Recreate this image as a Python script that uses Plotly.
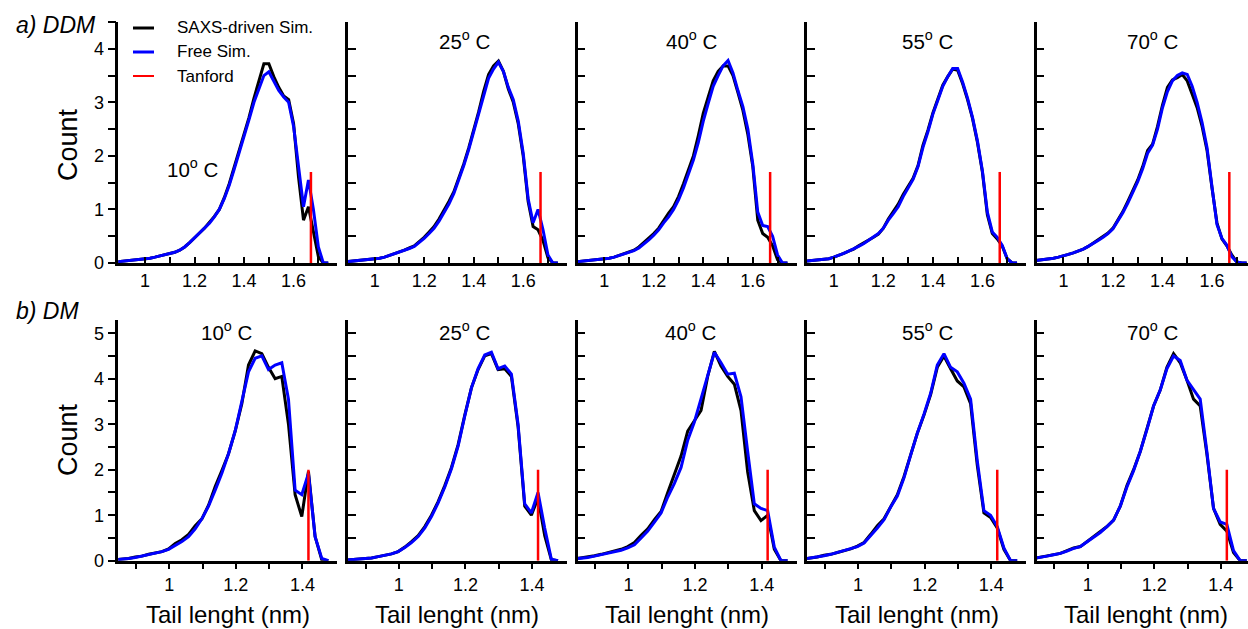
import plotly.graph_objects as go

W, H = 1248, 629
FONT = "Liberation Sans, Arial, Helvetica, sans-serif"

# ---------------- data ----------------
temps = ["10", "25", "40", "55", "70"]
ddm_tanford = 1.67   # nm, Tanford length for DDM tail
dm_tanford = 1.418   # nm, Tanford length for DM tail
ddm_tanford_h = 1.7
dm_tanford_h = 2.0

x_ddm = [0.88, 0.90, 0.92, 0.94, 0.96, 0.98, 1.00, 1.02, 1.04, 1.06, 1.08,
         1.10, 1.12, 1.14, 1.16, 1.18, 1.20, 1.22, 1.24, 1.26, 1.28, 1.30,
         1.32, 1.34, 1.36, 1.38, 1.40, 1.42, 1.44, 1.46, 1.48, 1.50, 1.52,
         1.54, 1.56, 1.58, 1.60, 1.62, 1.64, 1.66, 1.68, 1.70, 1.72, 1.74]

ddm_saxs_10 = [.02, .03, .03, .04, .05, .06, .07, .09, .11, .13, .15, .17, .20, .24, .30, .38, .48, .56, .65, .75, .87, 1.0,
               1.22, 1.48, 1.78, 2.10, 2.40, 2.72, 3.08, 3.38, 3.72, 3.72, 3.48, 3.28, 3.12, 3.05, 2.60, 1.60, 0.80, 1.05, 0.55, 0.12, 0, 0]
ddm_free_10 = [.02, .03, .03, .04, .05, .06, .07, .09, .11, .13, .15, .17, .20, .24, .30, .38, .47, .55, .64, .74, .86, 1.0,
               1.20, 1.45, 1.75, 2.05, 2.35, 2.68, 3.0, 3.25, 3.50, 3.57, 3.40, 3.22, 3.10, 3.0, 2.55, 1.80, 1.05, 1.55, 1.0, 0.30, 0, 0]
ddm_saxs_25 = [.02, .03, .03, .04, .05, .06, .07, .09, .11, .14, .17, .21, .24, .28, .32, .40, .48, .58, .68, .82, .98, 1.15,
               1.33, 1.58, 1.85, 2.15, 2.48, 2.82, 3.20, 3.52, 3.68, 3.77, 3.58, 3.25, 3.00, 2.60, 2.00, 1.15, 0.68, 0.62, 0.42, 0.10, 0, 0]
ddm_free_25 = [.02, .03, .03, .04, .05, .06, .07, .09, .11, .14, .17, .20, .23, .27, .31, .38, .46, .55, .65, .78, .94, 1.10,
               1.30, 1.55, 1.82, 2.12, 2.45, 2.78, 3.15, 3.45, 3.62, 3.75, 3.58, 3.28, 3.05, 2.65, 2.05, 1.20, 0.75, 1.0, 0.62, 0.15, 0, 0]
ddm_saxs_40 = [.02, .03, .04, .04, .05, .06, .07, .09, .11, .14, .18, .21, .24, .30, .38, .46, .55, .65, .80, .93, 1.05, 1.24,
               1.48, 1.74, 2.0, 2.38, 2.80, 3.10, 3.40, 3.58, 3.68, 3.68, 3.50, 3.18, 2.85, 2.40, 1.80, 0.80, 0.55, 0.48, 0.32, 0.06, 0, 0]
ddm_free_40 = [.02, .03, .04, .04, .05, .06, .07, .09, .11, .14, .17, .20, .23, .28, .35, .43, .52, .62, .75, .86, 1.0, 1.18,
               1.40, 1.65, 1.92, 2.25, 2.65, 2.98, 3.30, 3.50, 3.68, 3.78, 3.55, 3.22, 2.92, 2.50, 1.85, 0.95, 0.70, 0.68, 0.50, 0.15, 0, 0]
ddm_saxs_55 = [.03, .04, .04, .05, .06, .08, .11, .14, .18, .22, .26, .32, .37, .42, .48, .54, .65, .82, .95, 1.10, 1.28, 1.42,
               1.58, 1.82, 2.20, 2.48, 2.80, 3.06, 3.32, 3.48, 3.62, 3.60, 3.35, 3.05, 2.70, 2.25, 1.70, 0.90, 0.55, 0.45, 0.32, 0.08, 0, 0]
ddm_free_55 = [.03, .04, .04, .05, .06, .08, .11, .14, .18, .22, .26, .31, .36, .42, .48, .55, .65, .80, .92, 1.05, 1.24, 1.40,
               1.56, 1.80, 2.16, 2.45, 2.78, 3.04, 3.30, 3.48, 3.63, 3.63, 3.38, 3.08, 2.72, 2.28, 1.72, 0.95, 0.58, 0.48, 0.33, 0.08, 0, 0]
ddm_saxs_70 = [.04, .05, .06, .07, .09, .11, .13, .16, .19, .22, .26, .31, .37, .43, .49, .56, .65, .80, .96, 1.15, 1.35, 1.55,
               1.80, 2.10, 2.22, 2.55, 2.95, 3.28, 3.42, 3.46, 3.52, 3.40, 3.15, 2.90, 2.55, 2.10, 1.40, 0.75, 0.45, 0.32, 0.15, 0.02, 0, 0]
ddm_free_70 = [.04, .05, .06, .07, .09, .11, .13, .16, .19, .22, .26, .31, .36, .42, .48, .55, .64, .78, .94, 1.12, 1.32, 1.52,
               1.76, 2.05, 2.20, 2.50, 2.90, 3.20, 3.40, 3.50, 3.55, 3.52, 3.30, 3.00, 2.62, 2.15, 1.42, 0.72, 0.46, 0.33, 0.12, 0.02, 0, 0]

x_dm = [0.838, 0.858, 0.878, 0.898, 0.918, 0.938, 0.958, 0.978, 0.998, 1.018, 1.038,
        1.058, 1.078, 1.098, 1.118, 1.138, 1.158, 1.178, 1.198, 1.218, 1.238, 1.258,
        1.278, 1.298, 1.318, 1.338, 1.358, 1.378, 1.398, 1.418, 1.438, 1.458, 1.478]

dm_saxs_10 = [.02, .03, .05, .08, .10, .14, .17, .20, .26, .38, .46, .58, .77, .92, 1.22, 1.63, 1.98, 2.35, 2.85, 3.45, 4.30, 4.61,
              4.55, 4.25, 4.00, 4.05, 3.00, 1.45, 0.97, 1.96, 0.53, 0.02, 0]
dm_free_10 = [.02, .03, .05, .07, .10, .13, .16, .20, .25, .33, .42, .53, .70, .92, 1.20, 1.55, 1.92, 2.35, 2.85, 3.50, 4.15, 4.45,
              4.50, 4.20, 4.30, 4.35, 3.55, 1.55, 1.45, 1.92, 0.53, 0.05, 0]
dm_saxs_25 = [.01, .02, .03, .04, .06, .09, .12, .15, .20, .30, .42, .55, .75, 1.00, 1.30, 1.65, 2.05, 2.55, 3.20, 3.80, 4.20, 4.50,
              4.55, 4.20, 4.22, 4.05, 2.95, 1.20, 1.00, 1.38, 0.55, 0.02, 0]
dm_free_25 = [.01, .02, .03, .04, .06, .09, .12, .15, .20, .29, .40, .53, .72, .97, 1.27, 1.62, 2.02, 2.52, 3.18, 3.80, 4.22, 4.52,
              4.58, 4.22, 4.28, 4.10, 3.00, 1.25, 1.05, 1.50, 0.72, 0.03, 0]
dm_saxs_40 = [.04, .06, .08, .11, .14, .18, .21, .25, .31, .40, .56, .70, .90, 1.08, 1.50, 1.90, 2.30, 2.85, 3.08, 3.30, 4.05, 4.60,
              4.28, 4.05, 3.88, 3.30, 1.95, 1.10, 0.88, 1.00, 0.25, 0.0, 0]
dm_free_40 = [.04, .05, .07, .10, .13, .16, .19, .23, .28, .35, .50, .65, .85, 1.05, 1.40, 1.70, 2.05, 2.65, 3.05, 3.55, 4.10, 4.58,
              4.35, 4.10, 4.12, 3.60, 2.40, 1.25, 1.15, 1.10, 0.30, 0.0, 0]
dm_saxs_55 = [.04, .06, .08, .12, .14, .18, .22, .26, .32, .40, .58, .77, .92, 1.20, 1.45, 1.85, 2.35, 2.80, 3.20, 3.65, 4.25, 4.50,
              4.22, 3.95, 3.82, 3.45, 2.10, 1.05, 0.95, 0.72, 0.25, 0.0, 0]
dm_free_55 = [.04, .06, .08, .11, .14, .18, .22, .26, .31, .39, .55, .72, .90, 1.18, 1.42, 1.82, 2.32, 2.80, 3.22, 3.68, 4.30, 4.55,
              4.25, 4.15, 3.90, 3.55, 2.20, 1.10, 1.00, 0.75, 0.28, 0.0, 0]
dm_saxs_70 = [.05, .08, .10, .14, .16, .22, .28, .31, .42, .53, .62, .75, .89, 1.20, 1.65, 2.00, 2.40, 2.88, 3.40, 3.75, 4.25, 4.55,
              4.35, 3.97, 3.55, 3.40, 2.35, 1.15, 0.80, 0.65, 0.18, 0.0, 0]
dm_free_70 = [.05, .07, .10, .13, .16, .21, .27, .31, .41, .52, .62, .75, .89, 1.20, 1.62, 1.98, 2.40, 2.88, 3.40, 3.75, 4.22, 4.50,
              4.40, 3.97, 3.75, 3.55, 2.40, 1.15, 0.85, 0.80, 0.22, 0.0, 0]

ddm_y_ticks = [0, 0.5, 1, 1.5, 2, 2.5, 3, 3.5, 4, 4.5]
ddm_y_labels = ["0", "", "1", "", "2", "", "3", "", "4", ""]
dm_y_ticks = [0, 0.5, 1, 1.5, 2, 2.5, 3, 3.5, 4, 4.5, 5]
dm_y_labels = ["0", "", "1", "", "2", "", "3", "", "4", "", "5"]
ddm_x_ticks = [1.0, 1.1, 1.2, 1.3, 1.4, 1.5, 1.6, 1.7]
ddm_x_labels = ["1", "", "1.2", "", "1.4", "", "1.6", ""]
dm_x_ticks = [0.9, 1.0, 1.1, 1.2, 1.3, 1.4]
dm_x_labels = ["", "1", "", "1.2", "", "1.4"]

legend_names = ["SAXS-driven Sim.", "Free Sim.", "Tanford"]

# ---------------- layout geometry (pixels) ----------------
panel_left = [118.3, 347.9, 577.5, 807.1, 1036.7]
panel_w = 219.0

rows = [
    dict(x=x_ddm, saxs=[ddm_saxs_10, ddm_saxs_25, ddm_saxs_40, ddm_saxs_55, ddm_saxs_70],
         free=[ddm_free_10, ddm_free_25, ddm_free_40, ddm_free_55, ddm_free_70],
         tan=ddm_tanford, tan_h=ddm_tanford_h, ybot=263.0, ytop=22.0, ymax=4.5,
         xstart=0.892, scale=247.6, yt=ddm_y_ticks, yl=ddm_y_labels,
         xt=ddm_x_ticks, xl=ddm_x_labels, xticks="inside"),
    dict(x=x_dm, saxs=[dm_saxs_10, dm_saxs_25, dm_saxs_40, dm_saxs_55, dm_saxs_70],
         free=[dm_free_10, dm_free_25, dm_free_40, dm_free_55, dm_free_70],
         tan=dm_tanford, tan_h=dm_tanford_h, ybot=560.7, ytop=320.0, ymax=5.29,
         xstart=0.847, scale=333.0, yt=dm_y_ticks, yl=dm_y_labels,
         xt=dm_x_ticks, xl=dm_x_labels, xticks="outside"),
]

fig = go.Figure()
layout = {}

def px_x(p):
    return p / W

def px_y(p):
    return 1 - p / H

for r, row in enumerate(rows):
    for c in range(5):
        idx = r * 5 + c + 1
        sfx = "" if idx == 1 else str(idx)
        xref, yref = "x" + sfx, "y" + sfx
        left = panel_left[c]
        right = min(left + panel_w, W)
        xr = [row["xstart"], row["xstart"] + (right - left) / row["scale"]]

        fig.add_trace(go.Scatter(x=row["x"], y=row["saxs"][c], mode="lines",
                                 line=dict(color="black", width=3),
                                 xaxis=xref, yaxis=yref, showlegend=False))
        fig.add_trace(go.Scatter(x=row["x"], y=row["free"][c], mode="lines",
                                 line=dict(color="#0000ff", width=3),
                                 xaxis=xref, yaxis=yref, showlegend=False))
        fig.add_trace(go.Scatter(x=[row["tan"], row["tan"]], y=[0, row["tan_h"]], mode="lines",
                                 line=dict(color="#ff0000", width=2.5),
                                 xaxis=xref, yaxis=yref, showlegend=False))

        layout["xaxis" + sfx] = dict(
            domain=[px_x(left), px_x(right)], range=xr, anchor=yref, automargin=False,
            showline=True, linecolor="black", linewidth=2.5, mirror=False,
            ticks=row["xticks"], ticklen=6, tickwidth=2, tickcolor="black",
            tickmode="array", tickvals=row["xt"], ticktext=row["xl"],
            tickfont=dict(family=FONT, size=18, color="black"),
            showgrid=False, zeroline=False, fixedrange=True)
        layout["yaxis" + sfx] = dict(
            domain=[px_y(row["ybot"]), px_y(row["ytop"])], range=[0, row["ymax"]], anchor=xref,
            automargin=False,
            showline=True, linecolor="black", linewidth=2.5,
            ticks="outside" if c == 0 else "inside", ticklen=8, tickwidth=2, tickcolor="black",
            tickmode="array", tickvals=row["yt"], ticktext=row["yl"],
            showticklabels=(c == 0),
            tickfont=dict(family=FONT, size=18, color="black"),
            showgrid=False, zeroline=False, fixedrange=True)

annotations = []

def ann(text, x, y, size, xanchor="center", angle=0):
    annotations.append(dict(text=text, x=px_x(x), y=px_y(y), xref="paper", yref="paper",
                            xanchor=xanchor, yanchor="middle", showarrow=False, textangle=angle,
                            font=dict(family=FONT, size=size, color="black")))

# temperature labels
temp_pos_top = [(192.5, 168), (464, 40), (691.5, 40), (927.5, 40), (1152.5, 40)]
temp_pos_bot = [(226.7, 331), (464, 331), (690.5, 331), (927.5, 331), (1152.5, 331)]
for t, (x, y) in zip(temps, temp_pos_top):
    ann(t + "<sup>o</sup> C", x, y, 20.5)
for t, (x, y) in zip(temps, temp_pos_bot):
    ann(t + "<sup>o</sup> C", x, y, 20.5)

# axis titles
ann("Count", 68, 145, 27, angle=-90)
ann("Count", 68, 440, 27, angle=-90)
for c in range(5):
    ann("Tail lenght (nm)", panel_left[c] + panel_w / 2, 614, 24)

# row labels
ann("<i>a) DDM</i>", 14, 25, 23, xanchor="left")
ann("<i>b) DM</i>", 14, 311, 23, xanchor="left")

# legend
legend_colors = ["black", "#0000ff", "#ff0000"]
legend_widths = [3, 3, 2]
legend_y = [28, 52, 76]
shapes = []
for name, col, lw, y in zip(legend_names, legend_colors, legend_widths, legend_y):
    shapes.append(dict(type="line", xref="paper", yref="paper", x0=px_x(133), x1=px_x(154),
                       y0=px_y(y), y1=px_y(y), line=dict(color=col, width=lw)))
    ann(name, 175, y, 17, xanchor="left")

fig.update_layout(
    width=W, height=H, autosize=False,
    margin=dict(l=0, r=0, t=0, b=0, pad=0),
    paper_bgcolor="white", plot_bgcolor="white",
    showlegend=False, annotations=annotations, shapes=shapes,
    font=dict(family=FONT, color="black"),
    **layout)

fig.write_html("out.html")
